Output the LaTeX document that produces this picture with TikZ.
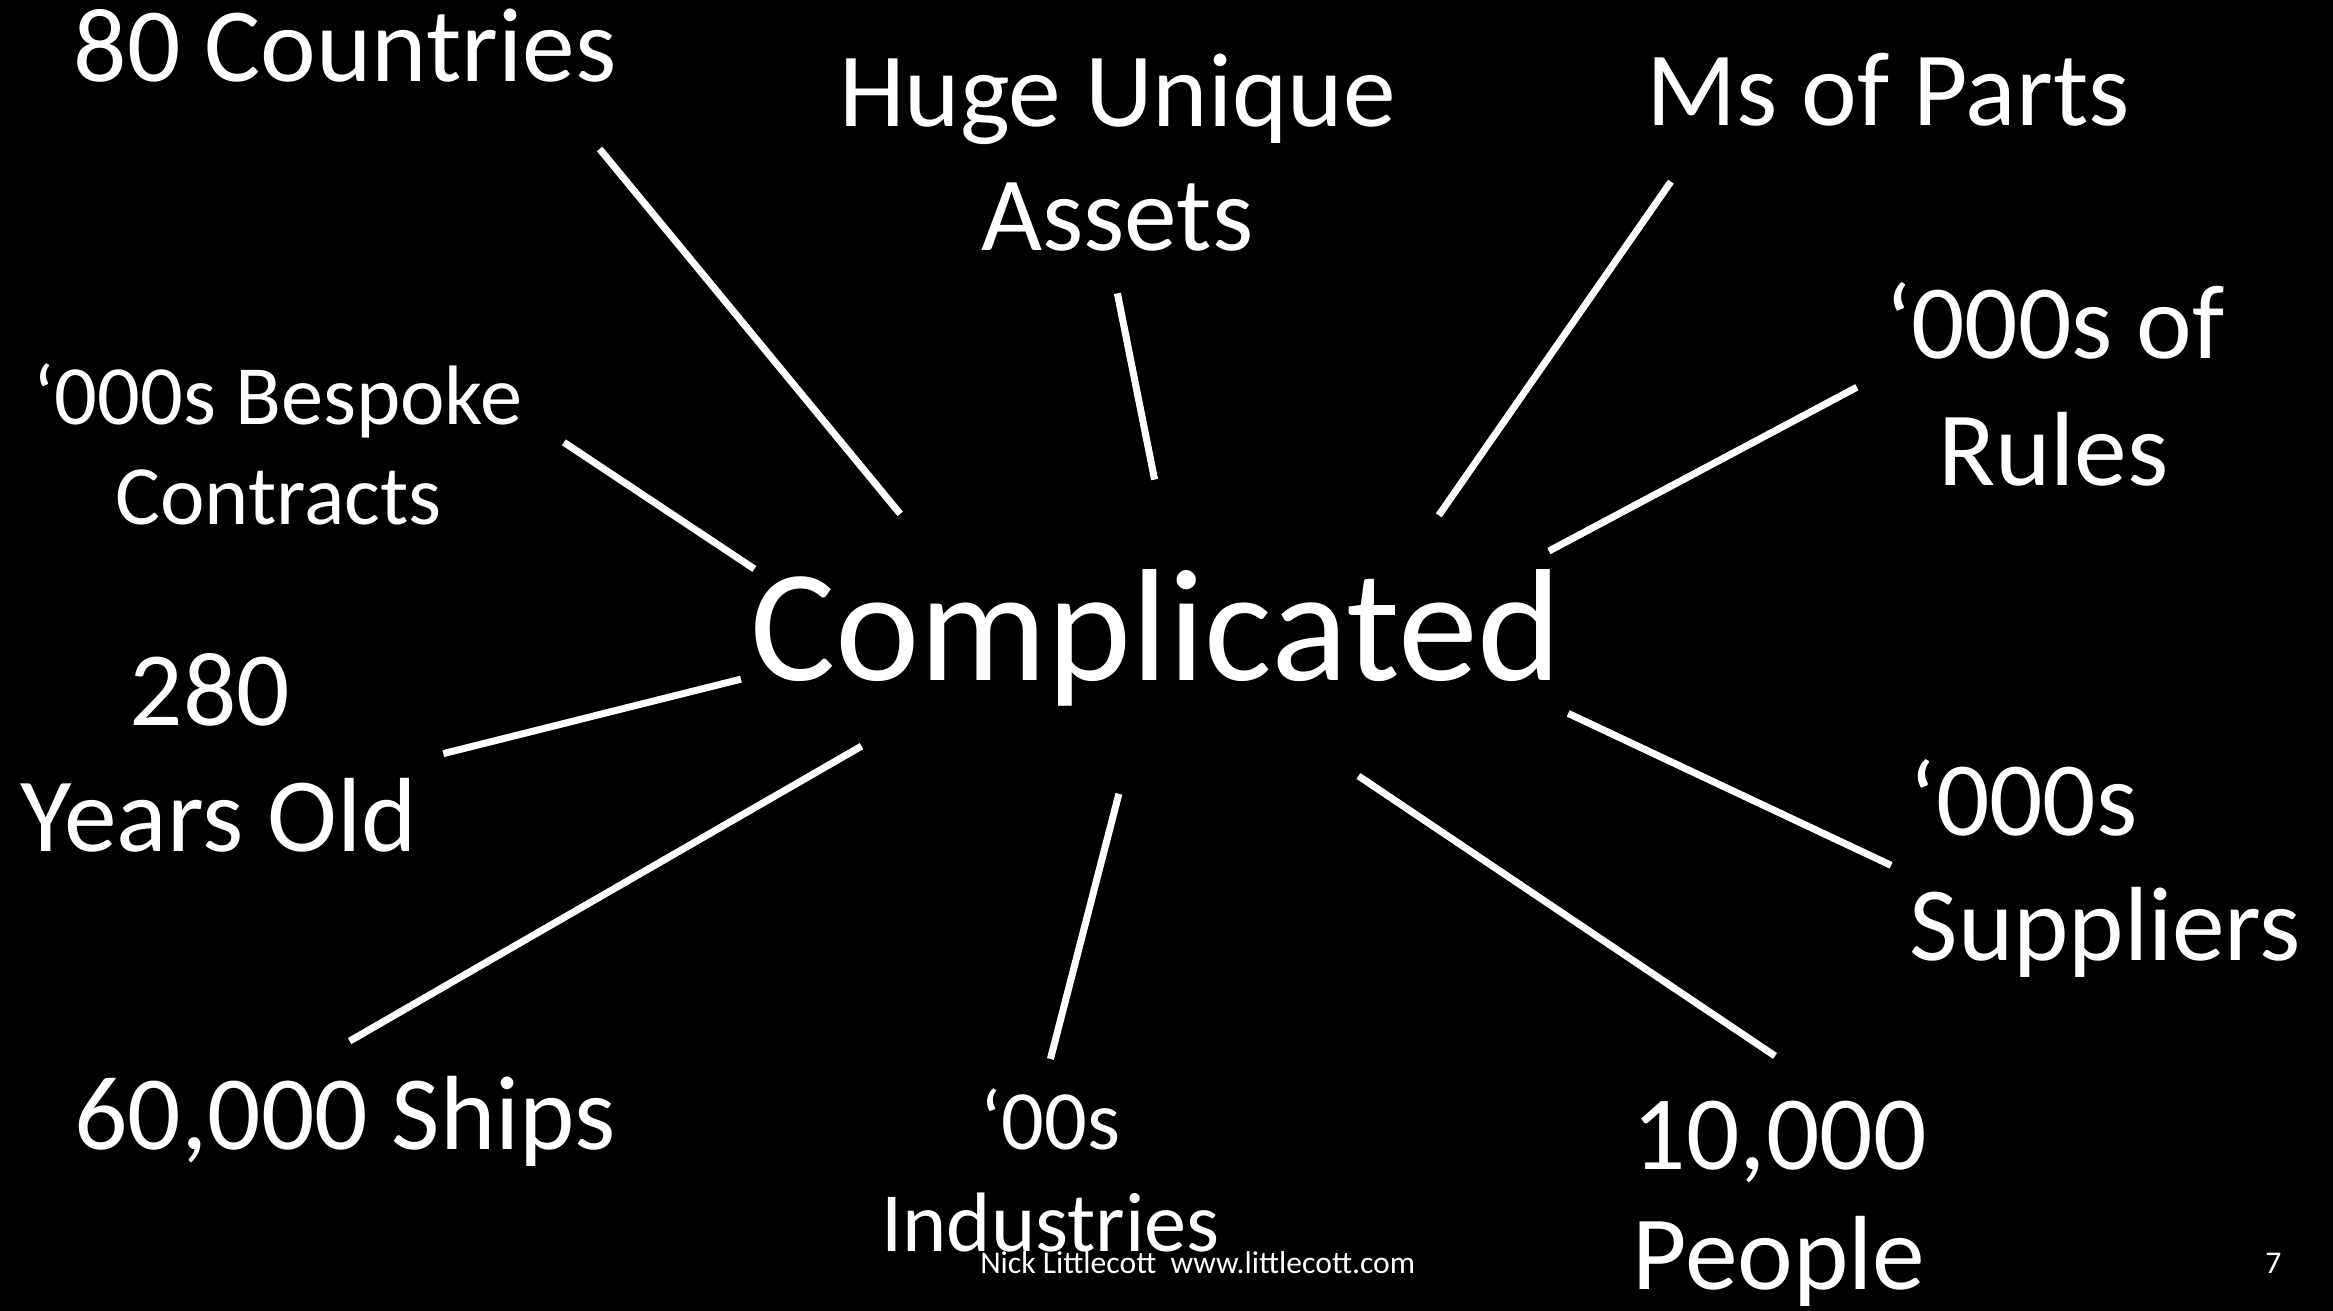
\documentclass[tikz,border=0pt]{standalone}
\usepackage{fontspec}
\setmainfont{Carlito}
\tikzset{
  label30/.style={text=white, inner sep=0pt, font=\fontsize{30}{36}\selectfont, anchor=base},
  label24/.style={text=white, inner sep=0pt, font=\fontsize{24}{29}\selectfont, anchor=base},
  spoke/.style={white, line width=2pt},
}
\begin{document}
\begin{tikzpicture}[x=0.014879cm, y=-0.014886cm]
        \fill[black] (0,0) rectangle (1568,880);
        \useasboundingbox (0,0) rectangle (1568,880);

        \node[text=white, inner sep=0pt, anchor=base, font=\fontsize{45.5}{55}\selectfont] (centre) at (777,457) {Complicated};

        \node[label30] (countries) at (232,55) {80 Countries};
        \node[label30] (huge) at (751,85) {Huge Unique};
        \node[label30] (assets) at (751,168) {Assets};
        \node[label30] (parts) at (1269,84) {Ms of Parts};
        \node[label30] (rulesa) at (1381,241) {‘000s of};
        \node[label30] (rulesb) at (1380,326) {Rules};
        \node[label24] (bespoke) at (187,285) {‘000s Bespoke};
        \node[label24] (contracts) at (187,352) {Contracts};
        \node[label30] (years) at (141,487) {280};
        \node[label30] (yearsb) at (147,572) {Years Old};
        \node[label30] (ships) at (232,772) {60,000 Ships};
        \node[label24] (industries) at (706,772) {‘00s};
        \node[label24] (industriesb) at (706,840) {Industries};
        \node[label30, anchor=base west] (people) at (1097,785) {10,000};
        \node[label30, anchor=base west] (peopleb) at (1097,866) {People};
        \node[label30, anchor=base west] (suppliers) at (1283,561) {‘000s};
        \node[label30, anchor=base west] (suppliersb) at (1283,645) {Suppliers};

        \node[text=white, inner sep=0pt, anchor=base, font=\fontsize{9}{11}\selectfont] (footer) at (805,855) {Nick Littlecott~ www.littlecott.com};
        \node[text=white, inner sep=0pt, anchor=base, font=\fontsize{9}{11}\selectfont] (pageno) at (1528,855) {7};

        % ends of the spokes
        \coordinate (c1) at (403,100);   \coordinate (d1) at (605,345);
        \coordinate (c2) at (751,197);   \coordinate (d2) at (776,322);
        \coordinate (c3) at (1123,122);  \coordinate (d3) at (967,346);
        \coordinate (c4) at (1248,260);  \coordinate (d4) at (1041,370);
        \coordinate (c5) at (379,297);   \coordinate (d5) at (507,382);
        \coordinate (c6) at (298,506);   \coordinate (d6) at (498,456);
        \coordinate (c7) at (235,699);   \coordinate (d7) at (579,501);
        \coordinate (c8) at (706,711);   \coordinate (d8) at (752,533);
        \coordinate (c9) at (1193,709);  \coordinate (d9) at (913,521);
        \coordinate (c10) at (1271,581); \coordinate (d10) at (1054,479);

        \draw[spoke] (c1) -- (d1);
        \draw[spoke] (c2) -- (d2);
        \draw[spoke] (c3) -- (d3);
        \draw[spoke] (c4) -- (d4);
        \draw[spoke] (c5) -- (d5);
        \draw[spoke] (c6) -- (d6);
        \draw[spoke] (c7) -- (d7);
        \draw[spoke] (c8) -- (d8);
        \draw[spoke] (c9) -- (d9);
        \draw[spoke] (c10) -- (d10);
    \end{tikzpicture}
\end{document}
